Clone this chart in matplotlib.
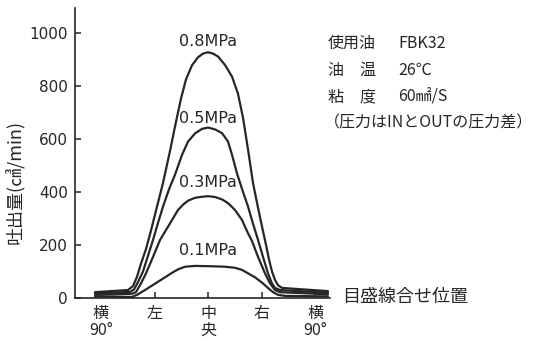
import numpy as np
import matplotlib
matplotlib.use("Agg")
import matplotlib.pyplot as plt

# fonts: CJK first, DejaVu as fallback
jp = ['Noto Sans CJK JP', 'DejaVu Sans']
plt.rcParams['font.family'] = jp

# positions along the x axis: 0 = 横90°, 1 = 左, 2 = 中央, 3 = 右, 4 = 横90°
x_ticks = [0, 1, 2, 3, 4]
x_labels = ['横\n90°', '左', '中\n央', '右', '横\n90°']
y_ticks = [0, 200, 400, 600, 800, 1000]

# curves (gauge position, flow cm3/min)
x_08 = [-0.112, 0.505, 0.598, 0.673, 0.748, 0.841, 0.935, 1.047, 1.159, 1.290,
        1.402, 1.495, 1.589, 1.701, 1.813, 1.907, 2.000, 2.093, 2.187, 2.318,
        2.449, 2.561, 2.654, 2.748, 2.841, 2.935, 3.009, 3.084, 3.140, 3.196,
        3.252, 3.308, 3.383, 4.243]
q_08 = [22, 30, 45, 80, 130, 185, 255, 345, 434, 555,
        665, 752, 825, 878, 908, 922, 927, 922, 911, 879,
        835, 770, 680, 560, 434, 340, 270, 200, 145, 100,
        68, 48, 38, 26]

x_05 = [-0.112, 0.542, 0.617, 0.692, 0.785, 0.879, 0.972, 1.065, 1.159, 1.271,
        1.383, 1.514, 1.626, 1.757, 1.888, 2.000, 2.131, 2.262, 2.374, 2.449,
        2.542, 2.654, 2.748, 2.841, 2.935, 3.028, 3.121, 3.196, 3.252, 3.346,
        4.243]
q_05 = [17, 23, 32, 60, 100, 160, 219, 283, 345, 410,
        465, 540, 590, 621, 638, 643, 636, 622, 590, 540,
        470, 400, 345, 280, 219, 155, 93, 55, 38, 30,
        20]

x_03 = [-0.112, 0.579, 0.654, 0.748, 0.841, 0.972, 1.103, 1.196, 1.327, 1.439,
        1.533, 1.626, 1.757, 1.888, 2.000, 2.131, 2.262, 2.374, 2.505, 2.636,
        2.748, 2.822, 2.935, 3.065, 3.159, 3.252, 3.346, 4.243]
q_03 = [12, 16, 22, 55, 93, 155, 219, 250, 294, 332,
        352, 367, 378, 382, 384, 381, 372, 358, 332, 294,
        244, 215, 155, 93, 55, 30, 22, 14]

x_01 = [-0.112, 0.579, 0.673, 0.822, 1.009, 1.196, 1.327, 1.439, 1.570, 1.757,
        2.037, 2.318, 2.505, 2.636, 2.748, 2.879, 3.009, 3.121, 3.215, 3.308,
        3.439, 4.243]
q_01 = [6, 4, 12, 30, 54, 78, 95, 108, 118, 121,
        120, 118, 114, 106, 93, 78, 58, 38, 22, 12,
        8, 6]

curves = [(x_08, q_08), (x_05, q_05), (x_03, q_03), (x_01, q_01)]
labels = ['0.8MPa', '0.5MPa', '0.3MPa', '0.1MPa']
label_y = [966, 679, 434, 181]

ink = '#262626'

fig = plt.figure(figsize=(5.42, 3.41), dpi=100)
ax = fig.add_axes([75/542, 1-298/341, 255/542, 290/341])

for xs, qs in curves:
    ax.plot(xs, qs, color=ink, lw=1.6, solid_joinstyle='round', solid_capstyle='round')

for lab, yy in zip(labels, label_y):
    ax.text(2.0, yy, lab, ha='center', va='center', fontsize=11.5,
            family='DejaVu Sans', color=ink)

ax.set_xlim(-0.486, 4.280)
ax.set_ylim(0, 1094)

for s in ['top', 'right']:
    ax.spines[s].set_visible(False)
for s in ['left', 'bottom']:
    ax.spines[s].set_linewidth(1.2)
    ax.spines[s].set_color(ink)

ax.set_yticks(y_ticks)
ax.set_yticklabels([str(v) for v in y_ticks], family='DejaVu Sans', fontsize=11)
ax.set_xticks(x_ticks)
ax.set_xticklabels(x_labels, fontsize=11.5, linespacing=1.0)
ax.tick_params(axis='both', direction='in', length=4, width=1.1, colors=ink)
ax.tick_params(axis='y', pad=5)
ax.tick_params(axis='x', pad=5)

# y label
fig.text(15/542, 1-182/341, '吐出量(㎤/min)', rotation=90, ha='center', va='center',
         fontsize=13, color=ink)

# conditions block
rows = [('使用油', 'FBK32'), ('油　温', '26℃'), ('粘　度', '60㎟/S')]
row_y = [43, 70, 97]
for (k, v), yy in zip(rows, row_y):
    fig.text(328/542, 1-yy/341, k, ha='left', va='center', fontsize=11.5, color=ink)
    fig.text(398/542, 1-yy/341, v, ha='left', va='center', fontsize=11.5, color=ink)
fig.text(324/542, 1-123/341, '（圧力はINとOUTの圧力差）', ha='left', va='center',
         fontsize=11.5, color=ink)

fig.text(342/542, 1-297/341, '目盛線合せ位置', ha='left', va='center',
         fontsize=13, color=ink)

fig.savefig('out.png', dpi=100)
